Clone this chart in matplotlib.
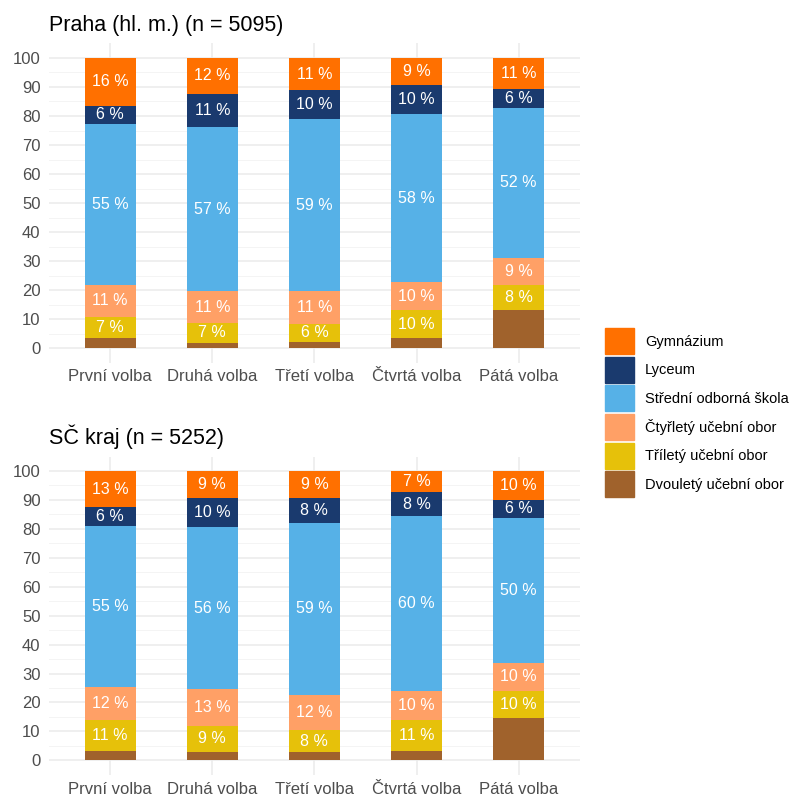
import matplotlib
matplotlib.use("Agg")
import matplotlib.pyplot as plt
from matplotlib.patches import Patch
import numpy as np

plt.rcParams['font.family'] = ['Liberation Sans', 'DejaVu Sans']

volby = ['První volba', 'Druhá volba', 'Třetí volba', 'Čtvrtá volba', 'Pátá volba']
typy = ['Dvouletý učební obor', 'Tříletý učební obor', 'Čtyřletý učební obor',
        'Střední odborná škola', 'Lyceum', 'Gymnázium']
barvy = ['#A0622C', '#E6C10A', '#FFA066', '#56B1E7', '#1A3A6E', '#FF7000']

# podily v % (od spodu nahoru), Praha
praha_dvoulety = [3.6, 1.9, 2.2, 3.3, 13.2]
praha_trilety = [7.2, 6.8, 6.1, 9.8, 8.5]
praha_ctyrlety = [11.0, 10.8, 11.4, 9.6, 9.3]
praha_sos = [55.4, 56.8, 59.1, 58.0, 51.8]
praha_lyceum = [6.4, 11.3, 10.1, 9.9, 6.4]
praha_gymn = [16.4, 12.4, 11.1, 9.4, 10.8]

# SC kraj
sc_dvoulety = [3.3, 2.9, 2.8, 3.1, 14.5]
sc_trilety = [10.6, 9.1, 7.7, 10.8, 9.6]
sc_ctyrlety = [11.6, 12.6, 12.2, 10.2, 9.6]
sc_sos = [55.4, 56.0, 59.4, 60.2, 50.1]
sc_lyceum = [6.5, 10.2, 8.5, 8.3, 6.3]
sc_gymn = [12.6, 9.2, 9.4, 7.4, 9.9]

praha = [praha_dvoulety, praha_trilety, praha_ctyrlety, praha_sos, praha_lyceum, praha_gymn]
sc = [sc_dvoulety, sc_trilety, sc_ctyrlety, sc_sos, sc_lyceum, sc_gymn]

W, H = 791, 798
fig = plt.figure(figsize=(W / 100, H / 100), dpi=100)

def panel(rect, data, title):
    ax = fig.add_axes(rect)
    x = np.arange(len(volby))
    bottom = np.zeros(len(volby))
    for i, vals in enumerate(data):
        vals = np.array(vals)
        ax.bar(x, vals, 0.5, bottom=bottom, color=barvy[i], zorder=3)
        if i > 0:  # dvouletý bez popisku
            for xi, b, v in zip(x, bottom, vals):
                ax.text(xi, b + v / 2, f"{int(round(v))} %", ha='center', va='center',
                        color='white', fontsize=11.5, zorder=4)
        bottom += vals
    ax.set_xlim(-0.6, 4.6)
    ax.set_ylim(-5, 105)
    ax.set_xticks(x)
    ax.set_xticklabels(volby)
    ax.set_yticks(np.arange(0, 101, 10))
    ax.set_yticks(np.arange(5, 100, 10), minor=True)
    ax.grid(True, which='major', color='#EBEBEB', lw=1.1, zorder=0)
    ax.grid(True, which='minor', axis='y', color='#F2F2F2', lw=0.6, zorder=0)
    ax.tick_params(length=0, labelsize=12, labelcolor='#4D4D4D')
    ax.tick_params(axis='y', pad=6)
    ax.tick_params(axis='x', pad=5)
    ax.tick_params(which='minor', length=0)
    for s in ax.spines.values():
        s.set_visible(False)
    ax.set_title(title, loc='left', fontsize=15.5, pad=9)
    return ax

panel([0.0617, 0.5457, 0.6716, 0.3998], praha, 'Praha (hl. m.) (n = 5095)')
panel([0.0617, 0.0291, 0.6716, 0.3988], sc, 'SČ kraj (n = 5252)')

handles = [Patch(color=barvy[i], label=typy[i]) for i in range(len(typy) - 1, -1, -1)]
fig.legend(handles=handles, loc='upper left', bbox_to_anchor=(605 / W, 1 - 328 / H),
           frameon=False, fontsize=10.5, handlelength=2.0, handleheight=2.37,
           labelspacing=0.18, handletextpad=0.75, borderpad=0, borderaxespad=0)

fig.savefig('out.png', dpi=100)
